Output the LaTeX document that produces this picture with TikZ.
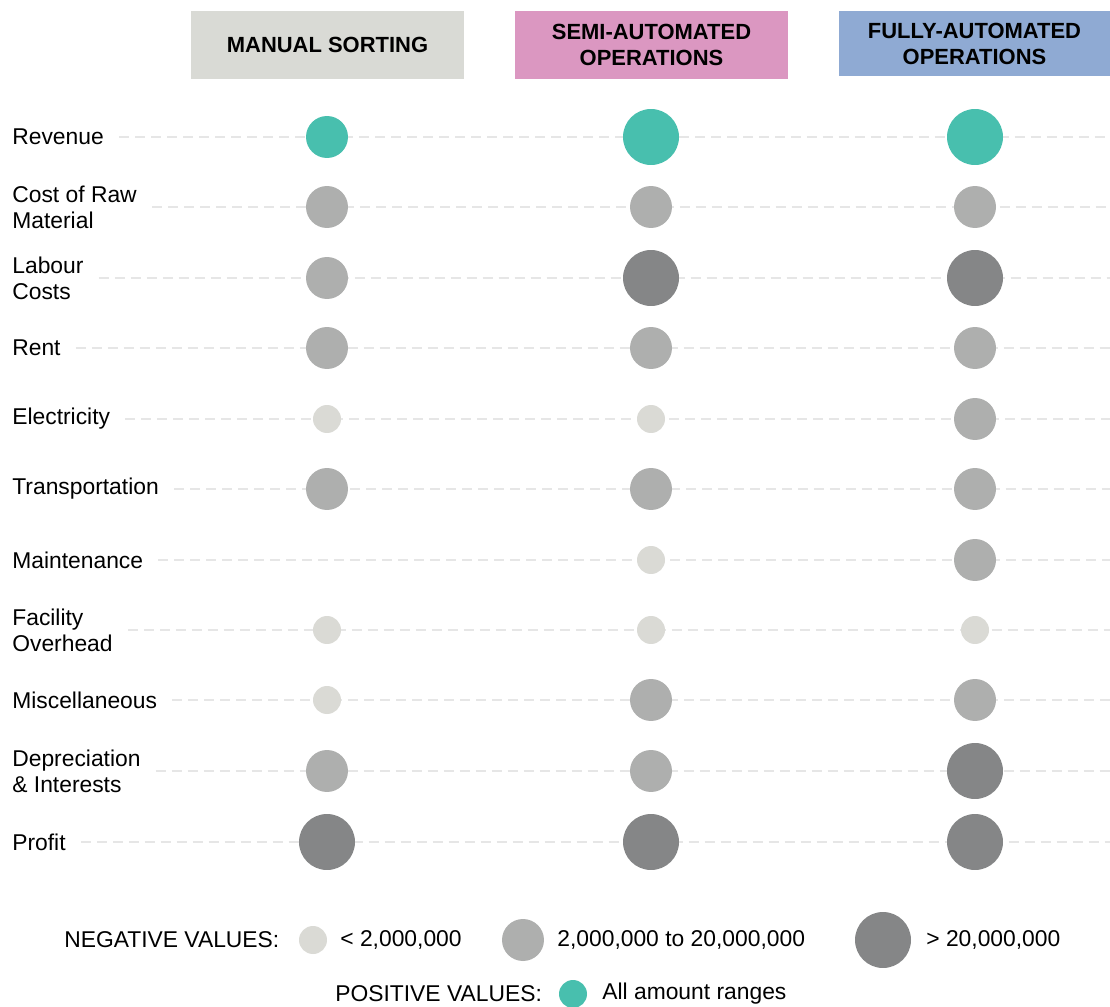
\documentclass[tikz,border=0pt]{standalone}
\usepackage{fontspec}
\setmainfont{Liberation Sans}
\usetikzlibrary{positioning}
\definecolor{lowc}{HTML}{DADAD5}
\definecolor{midc}{HTML}{AEAFAE}
\definecolor{highc}{HTML}{858687}
\definecolor{posc}{HTML}{48BFAE}
\definecolor{gridc}{HTML}{E6E6E6}
\definecolor{manc}{HTML}{D9DAD5}
\definecolor{semic}{HTML}{DB97C1}
\definecolor{fullc}{HTML}{8FAAD3}
\begin{document}
\begin{tikzpicture}[x=0.02cm, y=-0.02cm,
  lbl/.style={anchor=west, align=left, inner sep=0pt, font=\fontsize{13}{14.8}\selectfont},
  leg/.style={anchor=west, inner sep=0pt, font=\fontsize{13}{15}\selectfont},
  gline/.style={draw=gridc, line width=0.4mm, dash pattern=on 2mm off 1.2mm, shorten <=0.3cm},
  hdr/.style={fill=#1, minimum width=5.46cm, minimum height=1.36cm, align=center, inner sep=0pt, font=\bfseries\fontsize{12.5}{14.8}\selectfont},
  sml/.style={circle, fill=lowc, minimum size=5.6mm, inner sep=0pt},
  med/.style={circle, fill=midc, minimum size=8.4mm, inner sep=0pt},
  big/.style={circle, fill=highc, minimum size=11.2mm, inner sep=0pt},
  pos/.style={circle, fill=posc, minimum size=#1, inner sep=0pt}]
  \useasboundingbox[fill=white] (0,0) rectangle (1110,1007);

  % column headers
  \node[hdr=manc] (man) at (327.5,45) {MANUAL SORTING};
  \node[hdr=semic] (semi) at (651.5,45) {SEMI-AUTOMATED\\OPERATIONS};
  \node[hdr=fullc, minimum width=5.42cm, minimum height=1.3cm] (full) at (974.5,43.5) {FULLY-AUTOMATED\\OPERATIONS};

  % row labels and grid lines
  \foreach \nm/\txt/\y in {rev/Revenue/137, raw/{Cost of Raw\\Material}/207,
      lab/{Labour\\Costs}/278, rent/Rent/348, elec/Electricity/419,
      trans/Transportation/489, maint/Maintenance/560, fac/{Facility\\Overhead}/630,
      misc/Miscellaneous/700, dep/{Depreciation\\\& Interests}/771, prof/Profit/842} {
    \node[lbl] (\nm) at (12,\y) {\txt};
    \coordinate (\nm-end) at (1110,\y);
    \draw[gline] (\nm) -- (\nm-end);
  }

  % manual sorting
  \node[pos=8.4mm] (rev-a) at (327,137) {};
  \node[med] (raw-a) at (327,207) {};
  \node[med] (lab-a) at (327,278) {};
  \node[med] (rent-a) at (327,348) {};
  \node[sml] (elec-a) at (327,419) {};
  \node[med] (trans-a) at (327,489) {};
  \node[sml] (fac-a) at (327,630) {};
  \node[sml] (misc-a) at (327,700) {};
  \node[med] (dep-a) at (327,771) {};
  \node[big] (prof-a) at (327,842) {};

  % semi-automated
  \node[pos=11.2mm] (rev-b) at (651,137) {};
  \node[med] (raw-b) at (651,207) {};
  \node[big] (lab-b) at (651,278) {};
  \node[med] (rent-b) at (651,348) {};
  \node[sml] (elec-b) at (651,419) {};
  \node[med] (trans-b) at (651,489) {};
  \node[sml] (maint-b) at (651,560) {};
  \node[sml] (fac-b) at (651,630) {};
  \node[med] (misc-b) at (651,700) {};
  \node[med] (dep-b) at (651,771) {};
  \node[big] (prof-b) at (651,842) {};

  % fully-automated
  \node[pos=11.2mm] (rev-c) at (975,137) {};
  \node[med] (raw-c) at (975,207) {};
  \node[big] (lab-c) at (975,278) {};
  \node[med] (rent-c) at (975,348) {};
  \node[med] (elec-c) at (975,419) {};
  \node[med] (trans-c) at (975,489) {};
  \node[med] (maint-c) at (975,560) {};
  \node[sml] (fac-c) at (975,630) {};
  \node[med] (misc-c) at (975,700) {};
  \node[big] (dep-c) at (975,771) {};
  \node[big] (prof-c) at (975,842) {};

  % legend
  \node[leg] (neg) at (64,940) {NEGATIVE VALUES:};
  \node[sml] (leglo) at (313,940) {};
  \node[leg] (leglotxt) at (340,940) {< 2,000,000};
  \node[med] (legmid) at (523,940) {};
  \node[leg] (legmidtxt) at (557,940) {2,000,000 to 20,000,000};
  \node[big] (leghi) at (883,940) {};
  \node[leg] (leghitxt) at (926,940) {> 20,000,000};
  \node[leg] (posv) at (335,994) {POSITIVE VALUES:};
  \node[pos=5.6mm] (legpos) at (573,994) {};
  \node[leg] (legpostxt) at (602,994) {All amount ranges};
\end{tikzpicture}
\end{document}
